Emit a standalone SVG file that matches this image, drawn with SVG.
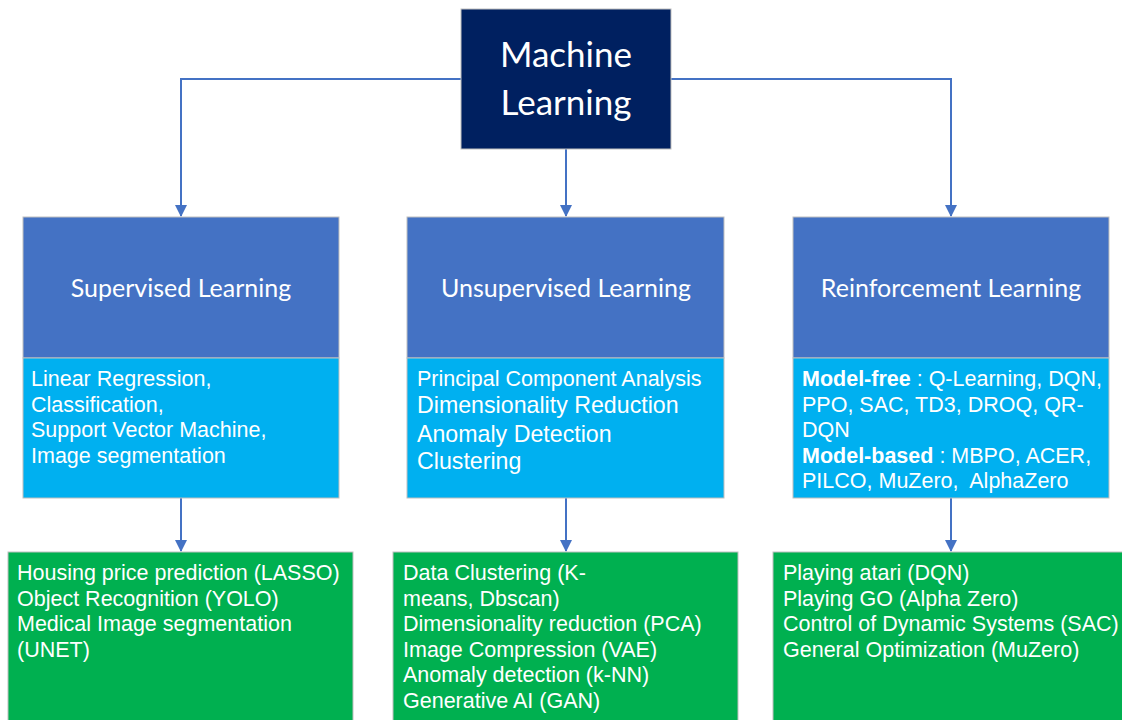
<svg xmlns="http://www.w3.org/2000/svg" width="1122" height="720" viewBox="0 0 1122 720">
  <style>
    .box { stroke: #BFBFBF; stroke-width: 1; }
    .root { fill: #002060; }
    .head { fill: #4472C4; }
    .list { fill: #00B0F0; }
    .app { fill: #00B050; }
    .title { font-family: Lato, "Open Sans", sans-serif; fill: #FFFFFF; text-anchor: middle; }
    .body { font-family: "Liberation Sans", Arial, sans-serif; fill: #FFFFFF; font-size: 21.5px; }
    .big { font-size: 23.2px; }
    .b { font-weight: bold; }
    .conn { fill: none; stroke: #4472C4; stroke-width: 2; }
  </style>
  <defs>
    <marker id="arrow" viewBox="0 0 12 12" refX="11" refY="6" markerWidth="12" markerHeight="12" markerUnits="userSpaceOnUse" orient="auto">
      <path d="M0,0 L12,6 L0,12 Z" fill="#4472C4"/>
    </marker>
  </defs>

  <rect width="1122" height="720" fill="#FFFFFF"/>

  <!-- connectors -->
  <g id="connectors">
    <path class="conn" d="M461,79 H181 V216" marker-end="url(#arrow)"/>
    <path class="conn" d="M566,149 V216" marker-end="url(#arrow)"/>
    <path class="conn" d="M671,79 H951 V216" marker-end="url(#arrow)"/>
    <path class="conn" d="M181,498 V551" marker-end="url(#arrow)"/>
    <path class="conn" d="M566,498 V551" marker-end="url(#arrow)"/>
    <path class="conn" d="M951,498 V551" marker-end="url(#arrow)"/>
  </g>

  <!-- root -->
  <g id="machine-learning">
    <rect class="box root" x="461" y="9" width="210" height="140"/>
    <text class="title" x="566" y="67" font-size="35">Machine</text>
    <text class="title" x="566" y="115" font-size="35">Learning</text>
  </g>

  <!-- supervised -->
  <g id="supervised">
    <rect class="box head" x="23" y="217" width="316" height="141"/>
    <text class="title" x="181" y="297" font-size="25">Supervised Learning</text>
  </g>
  <g id="supervised-methods">
    <rect class="box list" x="23" y="358" width="316" height="140"/>
    <text class="body" x="31" y="386">Linear Regression,</text>
    <text class="body" x="31" y="412">Classification,</text>
    <text class="body" x="31" y="437">Support Vector Machine,</text>
    <text class="body" x="31" y="463">Image segmentation</text>
  </g>
  <g id="supervised-apps">
    <rect class="box app" x="8" y="552" width="345" height="180"/>
    <text class="body" x="17" y="580">Housing price prediction (LASSO)</text>
    <text class="body" x="17" y="606">Object Recognition (YOLO)</text>
    <text class="body" x="17" y="631">Medical Image segmentation</text>
    <text class="body" x="17" y="657">(UNET)</text>
  </g>

  <!-- unsupervised -->
  <g id="unsupervised">
    <rect class="box head" x="407" y="217" width="317" height="141"/>
    <text class="title" x="566" y="297" font-size="25">Unsupervised Learning</text>
  </g>
  <g id="unsupervised-methods">
    <rect class="box list" x="407" y="358" width="317" height="140"/>
    <text class="body" x="417" y="386">Principal Component Analysis</text>
    <text class="body big" x="417" y="413">Dimensionality Reduction</text>
    <text class="body big" x="417" y="442">Anomaly Detection</text>
    <text class="body big" x="417" y="469">Clustering</text>
  </g>
  <g id="unsupervised-apps">
    <rect class="box app" x="393" y="552" width="345" height="180"/>
    <text class="body" x="403" y="580">Data Clustering (K-</text>
    <text class="body" x="403" y="606">means, Dbscan)</text>
    <text class="body" x="403" y="631">Dimensionality reduction (PCA)</text>
    <text class="body" x="403" y="657">Image Compression (VAE)</text>
    <text class="body" x="403" y="682">Anomaly detection (k-NN)</text>
    <text class="body" x="403" y="708">Generative AI (GAN)</text>
  </g>

  <!-- reinforcement -->
  <g id="reinforcement">
    <rect class="box head" x="793" y="217" width="316" height="141"/>
    <text class="title" x="951" y="297" font-size="25">Reinforcement Learning</text>
  </g>
  <g id="reinforcement-methods">
    <rect class="box list" x="793" y="358" width="316" height="140"/>
    <text class="body" x="802" y="386"><tspan class="b">Model-free</tspan> : Q-Learning, DQN,</text>
    <text class="body" x="802" y="412">PPO, SAC, TD3, DROQ, QR-</text>
    <text class="body" x="802" y="437">DQN</text>
    <text class="body" x="802" y="463"><tspan class="b">Model-based</tspan> : MBPO, ACER,</text>
    <text class="body" x="802" y="488" xml:space="preserve">PILCO, MuZero,  AlphaZero</text>
  </g>
  <g id="reinforcement-apps">
    <rect class="box app" x="773" y="552" width="360" height="180"/>
    <text class="body" x="783" y="580">Playing atari (DQN)</text>
    <text class="body" x="783" y="606">Playing GO (Alpha Zero)</text>
    <text class="body" x="783" y="631">Control of Dynamic Systems (SAC)</text>
    <text class="body" x="783" y="657">General Optimization (MuZero)</text>
  </g>
</svg>
